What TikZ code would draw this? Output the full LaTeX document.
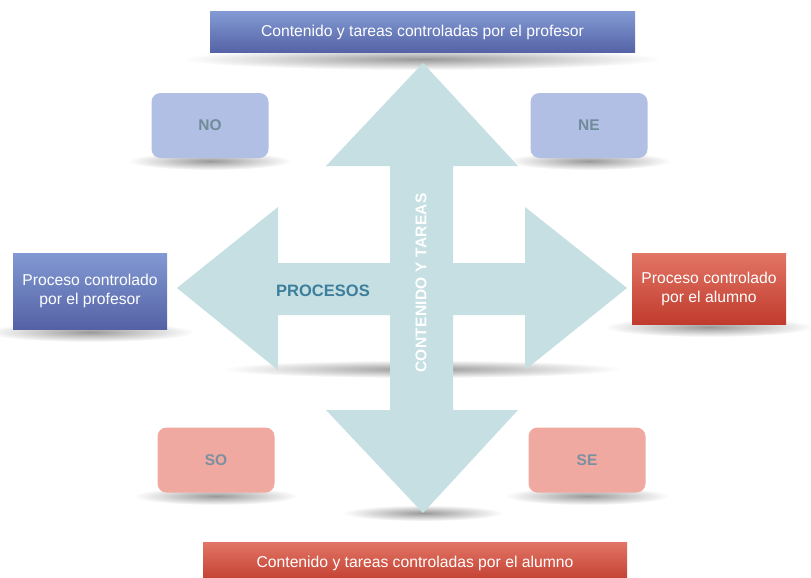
\documentclass[tikz,border=0pt]{standalone}
\usepackage{fontspec}
\setmainfont{Liberation Sans}
\usepackage{tikz}
\usetikzlibrary{positioning, shapes}

\definecolor{profTop}{HTML}{8299D3}
\definecolor{profBot}{HTML}{5462A5}
\definecolor{alumTop}{HTML}{E27565}
\definecolor{alumBot}{HTML}{C03B2D}
\definecolor{zonaAzul}{HTML}{B2BFE5}
\definecolor{zonaRoja}{HTML}{EFA9A0}
\definecolor{flecha}{HTML}{C5DFE2}
\definecolor{procText}{HTML}{3C7E9B}
\definecolor{zonaText}{HTML}{6F8C98}
\definecolor{zonaTextR}{HTML}{7D90A2}

\begin{document}
\begin{tikzpicture}[x=1pt, y=-1pt,
	prof/.style={top color=profTop, bottom color=profBot, text=white, font=\fontsize{15.7}{19}\selectfont, align=center},
	alum/.style={top color=alumTop, bottom color=alumBot, text=white, font=\fontsize{15.7}{19}\selectfont, align=center},
	zona/.style={rounded corners=9pt, minimum width=117pt, minimum height=65pt, font=\fontsize{15.5}{18}\selectfont\bfseries},
	sombra/.style={inner color=black!40, outer color=white}]
	\useasboundingbox (0,0) rectangle (811,578);
	\coordinate (c) at (422,288);

	% soft shadows on the floor
	\shade[sombra] (422,59) ellipse (240pt and 11pt);
	\shade[sombra] (210,161) ellipse (82pt and 9pt);
	\shade[sombra] (589,161) ellipse (82pt and 9pt);
	\shade[sombra] (90,332) ellipse (105pt and 10pt);
	\shade[sombra] (709,327) ellipse (105pt and 10pt);
	\shade[sombra] (216,496) ellipse (82pt and 9pt);
	\shade[sombra] (587,496) ellipse (82pt and 9pt);
	\shade[sombra] (422,369) ellipse (200pt and 9pt);
	\shade[sombra] (423,513) ellipse (80pt and 8pt);

	% four-way arrow
	\fill[flecha] (423,63) -- (518,166) -- (453,166) -- (453,263) -- (525,263) -- (525,207)
	 -- (627,288) -- (525,370) -- (525,315) -- (453,315) -- (453,410) -- (518,410)
	 -- (423,513) -- (326,410) -- (390,410) -- (390,315) -- (278,315) -- (278,370)
	 -- (177,288) -- (278,207) -- (278,263) -- (390,263) -- (390,166) -- (326,166) -- cycle;
	\node[text=procText, font=\fontsize{16.5}{19}\selectfont\bfseries] (procesos) at (323,291) {PROCESOS};
	\node[rotate=90, text=white, font=\fontsize{15.5}{18}\selectfont\bfseries\addfontfeatures{LetterSpace=2}] (contenido) at (421,283) {CONTENIDO Y TAREAS};

	% content axis
	\node[prof, minimum width=425pt, minimum height=41pt] (arriba) at (422.5,32.5) {Contenido y tareas controladas por el profesor};
	\node[alum, minimum width=424pt, minimum height=42pt] (abajo) at (415,563) {Contenido y tareas controladas por el alumno};

	% process axis
	\node[prof, minimum width=154pt, minimum height=76pt] (izq) at (90,291) {Proceso controlado\\por el profesor};
	\node[alum, minimum width=154pt, minimum height=71pt] (der) at (709,288.5) {Proceso controlado\\por el alumno};

	% quadrants
	\node[zona, fill=zonaAzul, text=zonaText] (no) at (210,125.5) {NO};
	\node[zona, fill=zonaAzul, text=zonaText] (ne) at (589,125.5) {NE};
	\node[zona, fill=zonaRoja, text=zonaTextR] (so) at (216,460) {SO};
	\node[zona, fill=zonaRoja, text=zonaTextR] (se) at (587,460) {SE};
\end{tikzpicture}
\end{document}
